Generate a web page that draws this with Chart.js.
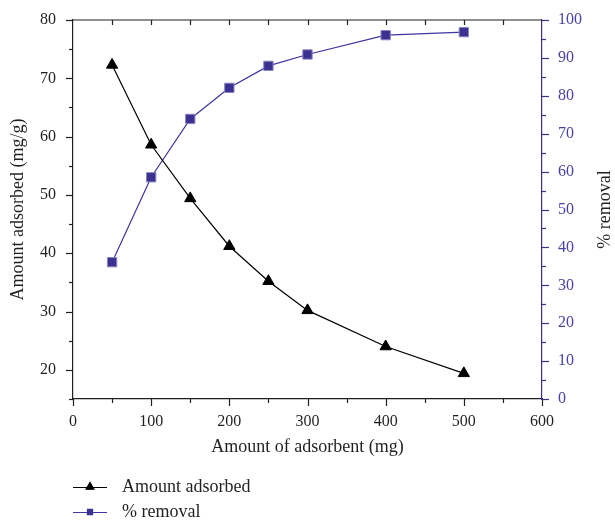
<!DOCTYPE html>
<html lang="en">
<head>
<meta charset="UTF-8">
<title>Adsorbent dose</title>
<script src="https://cdn.jsdelivr.net/npm/chart.js"></script>
<style>
  html, body { margin: 0; padding: 0; background: #fff; }
  #wrap { width: 615px; height: 521px; position: relative; }
</style>
</head>
<body>
<div id="wrap"><canvas id="doseChart"></canvas></div>
<script>
// adsorbent dose (mg)
const dose = [50, 100, 150, 200, 250, 300, 400, 500];
// amount adsorbed (mg/g)
const adsorbed = [72.3, 58.6, 49.4, 41.2, 35.2, 30.2, 24.0, 19.4];
// removal (%)
const removal = [36.1, 58.5, 73.9, 82.1, 87.9, 90.9, 96.0, 96.8];

const xTicks = [0, 100, 200, 300, 400, 500, 600];
const leftTicks = [20, 30, 40, 50, 60, 70, 80];
const rightTicks = [0, 10, 20, 30, 40, 50, 60, 70, 80, 90, 100];

const ink = '#231f20';
const blue = '#3b3190';
const serif = '"Liberation Serif", "DejaVu Serif", serif';

// fixed axis width; drop the label overhang chart.js adds above/below vertical axes
const fixWidth = w => s => { s.width = w; s.paddingTop = 0; s.paddingBottom = 0; };

// top frame line plus minor/major tick marks on all four sides
const tickMarks = {
  id: 'tickMarks',
  afterDraw(chart) {
    const { ctx, chartArea: a, scales } = chart;
    const seg = (x1, y1, x2, y2) => {
      ctx.beginPath(); ctx.moveTo(x1, y1); ctx.lineTo(x2, y2); ctx.stroke();
    };
    ctx.save();
    ctx.lineWidth = 1.2;
    ctx.strokeStyle = ink;
    seg(a.left, a.top, a.right, a.top);
    for (let v = 0; v <= 600; v += 50) {
      const x = Math.round(scales.x.getPixelForValue(v)) + 0.5;
      seg(x, a.bottom, x, a.bottom + (v % 100 === 0 ? 7 : 4));
      if (v > 0 && v < 600) seg(x, a.top, x, a.top + 5);
    }
    for (let v = 15; v <= 80; v += 5) {
      const y = Math.round(scales.y.getPixelForValue(v)) + 0.5;
      seg(a.left, y, a.left - (v % 10 === 0 ? 7 : 4), y);
    }
    ctx.strokeStyle = blue;
    for (let v = 0; v <= 100; v += 5) {
      const y = Math.round(scales.y1.getPixelForValue(v)) + 0.5;
      seg(a.right, y, a.right + (v % 10 === 0 ? 7 : 4), y);
    }
    ctx.restore();
  }
};

// right-hand title reads bottom to top, and the legend sits under the axis title
const extras = {
  id: 'extras',
  afterDraw(chart) {
    const { ctx, chartArea: a } = chart;
    ctx.save();
    ctx.fillStyle = ink;
    ctx.font = '18px ' + serif;
    ctx.textAlign = 'center';
    ctx.textBaseline = 'middle';
    ctx.translate(605, (a.top + a.bottom) / 2);
    ctx.rotate(-Math.PI / 2);
    ctx.fillText('% removal', 0, 0);
    ctx.restore();

    const rows = [
      { ds: chart.data.datasets[0], y: 487, r: 4.5 },
      { ds: chart.data.datasets[1], y: 512, r: 3.6 }
    ];
    ctx.save();
    rows.forEach(row => {
      const x0 = a.left, x1 = a.left + 34;
      ctx.strokeStyle = row.ds.borderColor;
      ctx.lineWidth = 1.2;
      ctx.beginPath(); ctx.moveTo(x0, row.y + 0.5); ctx.lineTo(x1, row.y + 0.5); ctx.stroke();
      Chart.helpers.drawPoint(ctx, {
        pointStyle: row.ds.pointStyle, radius: row.r, borderWidth: 1, rotation: 0
      }, (x0 + x1) / 2, row.y);
      ctx.fillStyle = row.ds.pointBackgroundColor;
      ctx.strokeStyle = row.ds.pointBorderColor;
      ctx.fill();
      ctx.fillStyle = ink;
      ctx.font = '18px ' + serif;
      ctx.textAlign = 'left';
      ctx.textBaseline = 'middle';
      ctx.fillText(row.ds.label, a.left + 49, row.y);
    });
    ctx.restore();
  }
};

new Chart(document.getElementById('doseChart'), {
  type: 'line',
  data: {
    datasets: [
      {
        label: 'Amount adsorbed',
        data: dose.map((d, i) => ({ x: d, y: adsorbed[i] })),
        yAxisID: 'y',
        borderColor: '#000',
        borderWidth: 1.2,
        pointStyle: 'triangle',
        pointRadius: 6.5,
        pointBackgroundColor: '#000',
        pointBorderColor: '#000',
        pointBorderWidth: 1,
        tension: 0
      },
      {
        label: '% removal',
        data: dose.map((d, i) => ({ x: d, y: removal[i] })),
        yAxisID: 'y1',
        borderColor: '#3d35a0',
        borderWidth: 1.2,
        pointStyle: 'rect',
        pointRadius: 6.6,
        pointBackgroundColor: blue,
        pointBorderColor: '#8c87c4',
        pointBorderWidth: 1,
        tension: 0
      }
    ]
  },
  options: {
    responsive: true,
    maintainAspectRatio: false,
    animation: false,
    layout: { autoPadding: false, padding: { top: 20, right: 0, bottom: 60, left: 0 } },
    plugins: { legend: { display: false }, tooltip: { enabled: false } },
    scales: {
      x: {
        type: 'linear', position: 'bottom', min: 0, max: 600,
        afterBuildTicks: s => { s.ticks = xTicks.map(v => ({ value: v })); },
        afterFit: s => { s.height = 62; },
        ticks: { color: ink, font: { family: serif, size: 16 }, padding: 13, maxRotation: 0 },
        grid: { drawOnChartArea: false, drawTicks: false },
        border: { color: ink, width: 1.2 },
        title: { display: true, text: 'Amount of adsorbent (mg)', color: ink, font: { family: serif, size: 18 }, padding: { top: 0, bottom: 3 } }
      },
      y: {
        type: 'linear', position: 'left', min: 15, max: 80,
        afterBuildTicks: s => { s.ticks = leftTicks.map(v => ({ value: v })); },
        afterFit: fixWidth(73),
        ticks: { color: ink, font: { family: serif, size: 16 }, padding: 17 },
        grid: { drawOnChartArea: false, drawTicks: false },
        border: { color: ink, width: 1.2 },
        title: { display: true, text: 'Amount adsorbed (mg/g)', color: ink, font: { family: serif, size: 18 }, padding: { top: 7, bottom: 0 } }
      },
      y1: {
        type: 'linear', position: 'right', min: 0, max: 100,
        afterBuildTicks: s => { s.ticks = rightTicks.map(v => ({ value: v })); },
        afterFit: fixWidth(73),
        ticks: { color: '#4a42a3', font: { family: serif, size: 16 }, padding: 16 },
        grid: { drawOnChartArea: false, drawTicks: false },
        border: { color: blue, width: 1.2 }
      }
    }
  },
  plugins: [tickMarks, extras]
});
</script>
</body>
</html>
